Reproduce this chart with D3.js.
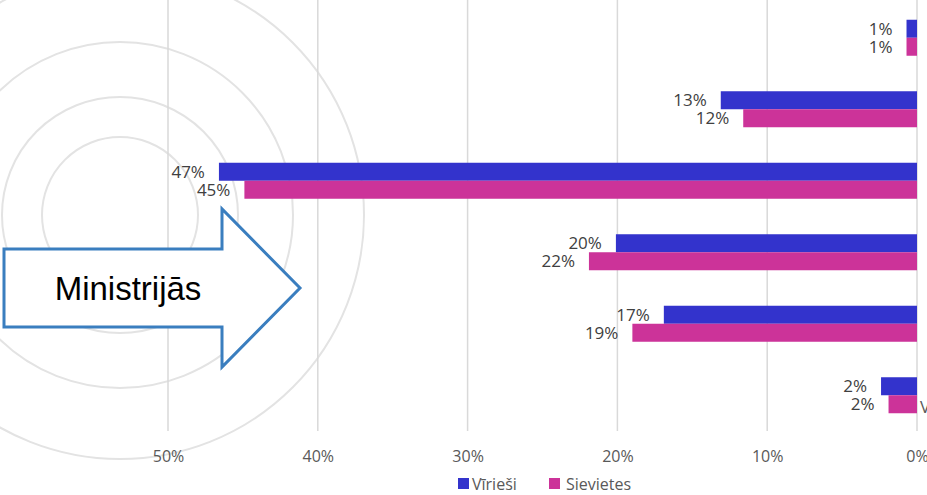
<!DOCTYPE html>
<html lang="lv">
<head>
    <meta charset="UTF-8">
    <title>Vīrieši un sievietes</title>
    <script src="https://d3js.org/d3.v7.min.js"></script>
    <style>
        body {
            margin: 0;
            background: #fff;
            font-family: "Open Sans", sans-serif;
        }
        svg { display: block; }
        .grid line { stroke: #d9d9d9; stroke-width: 1.5; }
        .axis text { font-size: 16px; fill: #595959; }
        .label { font-size: 17px; fill: #404040; }
        .legend text { font-size: 16px; fill: #595959; }
    </style>
</head>
<body>
<div id="chart"></div>
<script>
    // categories (only the last one's label peeks into view at the right edge)
    const categories = ["Pašvaldībās", "Aģentūrās", "Iestādēs", "Inspekcijās", "Dienestos", "Valsts kapitālsabiedrībās"];
    const series = ["Vīrieši", "Sievietes"];
    const men = [0.007, 0.131, 0.466, 0.201, 0.169, 0.024];
    const women = [0.007, 0.116, 0.449, 0.219, 0.190, 0.019];
    const ticks = [0, 0.1, 0.2, 0.3, 0.4, 0.5];

    const width = 927, height = 495;
    const colors = { "Vīrieši": "#3333cc", "Sievietes": "#cc3399" };

    const svg = d3.select("#chart").append("svg")
        .attr("width", width)
        .attr("height", height);

    // background rings
    const rings = [78, 118, 173, 244];
    svg.append("g").selectAll("circle")
        .data(rings)
        .enter().append("circle")
        .attr("cx", 120)
        .attr("cy", 215)
        .attr("r", d => d)
        .attr("fill", "none")
        .attr("stroke", "#e3e3e3")
        .attr("stroke-width", 2);

    // reversed value axis: 0% on the right
    const x = d3.scaleLinear().domain([0, 0.5]).range([917, 168]);
    const y = d3.scaleBand().domain(categories).range([2, 431]);
    const barH = 18;

    svg.append("g").attr("class", "grid")
        .selectAll("line")
        .data(ticks)
        .enter().append("line")
        .attr("x1", d => x(d))
        .attr("x2", d => x(d))
        .attr("y1", 0)
        .attr("y2", 431);

    const fmt = d3.format(".0%");

    svg.append("g")
        .attr("class", "axis")
        .attr("transform", "translate(0,456)")
        .call(d3.axisBottom(x).tickValues(ticks).tickFormat(fmt).tickSize(0))
        .call(g => g.select(".domain").remove())
        .call(g => g.selectAll("text").attr("dy", "0.35em").attr("y", 0).style("font-family", "'Open Sans', sans-serif"));

    const rows = categories.map((c, i) => ({ cat: c, values: [men[i], women[i]] }));

    const rowG = svg.append("g").selectAll("g")
        .data(rows)
        .enter().append("g")
        .attr("transform", d => `translate(0,${y(d.cat) + y.bandwidth() / 2})`);

    series.forEach((s, k) => {
        rowG.append("rect")
            .attr("x", d => x(d.values[k]))
            .attr("y", k === 0 ? -barH : 0)
            .attr("width", d => x(0) - x(d.values[k]))
            .attr("height", barH)
            .attr("fill", colors[s]);

        rowG.append("text")
            .attr("class", "label")
            .attr("x", d => x(d.values[k]) - 14)
            .attr("y", k === 0 ? -barH / 2 : barH / 2)
            .attr("dy", "0.35em")
            .attr("text-anchor", "end")
            .text(d => fmt(Math.round(d.values[k] * 100) / 100));
    });

    // category label of the last row, mostly cut off by the frame
    const last = categories[categories.length - 1];
    svg.append("text")
        .attr("x", 920)
        .attr("y", y(last) + y.bandwidth() / 2 + 12)
        .attr("dy", "0.35em")
        .attr("font-size", 17)
        .attr("fill", "#595959")
        .text(last);

    // legend
    const legend = svg.append("g").attr("class", "legend")
        .selectAll("g")
        .data(series)
        .enter().append("g")
        .attr("transform", (d, i) => `translate(${[458, 549][i]},478)`);

    legend.append("rect")
        .attr("width", 11)
        .attr("height", 11)
        .attr("fill", d => colors[d]);

    legend.append("text")
        .attr("x", (d, i) => i === 0 ? 14 : 17)
        .attr("y", 6)
        .attr("dy", "0.35em")
        .text(d => d);

    // arrow callout
    const arrow = [[4, 249], [222, 249], [222, 209], [300, 288], [222, 367], [222, 327], [4, 327]];
    svg.append("path")
        .attr("d", d3.line()(arrow) + "Z")
        .attr("fill", "#fff")
        .attr("stroke", "#3a7ebf")
        .attr("stroke-width", 3)
        .attr("stroke-linejoin", "miter");

    svg.append("text")
        .attr("x", 128)
        .attr("y", 300)
        .attr("text-anchor", "middle")
        .attr("font-family", "'Liberation Sans', Arial, sans-serif")
        .attr("font-size", 33)
        .attr("fill", "#000")
        .text("Ministrijās");
</script>
</body>
</html>
